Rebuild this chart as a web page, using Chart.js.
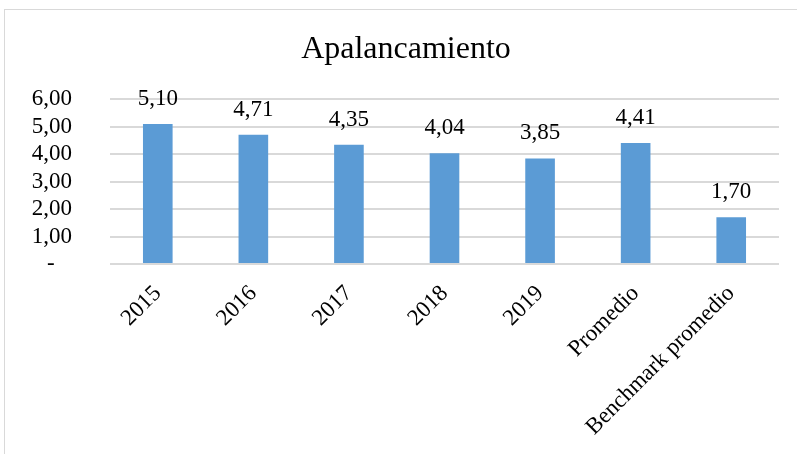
<!DOCTYPE html>
<html>
<head>
<meta charset="utf-8">
<script src="https://cdn.jsdelivr.net/npm/chart.js@4/dist/chart.umd.min.js"></script>
<style>
  html, body { margin: 0; padding: 0; background: #fff; overflow: hidden; }
  #frame {
    position: absolute; left: 4px; top: 9px;
    width: 812px; height: 460px;
    border: 1px solid #d9d9d9; background: #fff;
  }
  canvas { display: block; }
</style>
</head>
<body>
<div id="frame"><canvas id="c" width="812" height="460"></canvas></div>
<script>
// Leverage ratio by year, average and benchmark
const categories = ['2015', '2016', '2017', '2018', '2019', 'Promedio', 'Benchmark promedio'];
const apalancamiento = [5.10, 4.71, 4.35, 4.04, 3.85, 4.41, 1.70];
const yTicks = [0, 1, 2, 3, 4, 5, 6];

const SERIF = '"Liberation Serif", "Times New Roman", serif';
const fmt = v => v.toFixed(2).replace('.', ',');

// Value labels above each bar
const valueLabels = {
  id: 'valueLabels',
  afterDatasetsDraw(chart) {
    const ctx = chart.ctx;
    const meta = chart.getDatasetMeta(0);
    const values = chart.data.datasets[0].data;
    ctx.save();
    ctx.font = '23px ' + SERIF;
    ctx.fillStyle = '#000';
    ctx.textAlign = 'center';
    ctx.textBaseline = 'middle';
    meta.data.forEach((bar, i) => {
      ctx.fillText(fmt(values[i]), bar.x, bar.y - 25);
    });
    ctx.restore();
  }
};

// Centre the title across the whole frame rather than the padded layout box
const titleSpan = {
  id: 'titleSpan',
  afterLayout(chart) {
    if (chart.titleBlock) {
      chart.titleBlock.left = 0;
      chart.titleBlock.right = chart.width - 10;
    }
  }
};

new Chart(document.getElementById('c'), {
  type: 'bar',
  data: {
    labels: categories,
    datasets: [{
      data: apalancamiento,
      backgroundColor: '#5b9bd5',
      borderWidth: 0,
      categoryPercentage: 0.62,
      barPercentage: 0.5
    }]
  },
  options: {
    responsive: false,
    animation: false,
    layout: { padding: { left: 0, right: 38, top: 0, bottom: 0 } },
    plugins: {
      legend: { display: false },
      tooltip: { enabled: false },
      title: {
        display: true,
        text: 'Apalancamiento',
        color: '#000',
        font: { family: SERIF, size: 32, weight: 'normal' },
        padding: { top: 20, bottom: 31 }
      }
    },
    scales: {
      y: {
        min: 0, max: 6,
        afterBuildTicks(scale) { scale.ticks = yTicks.map(v => ({ value: v })); },
        afterFit(scale) { scale.width = 105; },
        border: { display: false },
        grid: { color: '#d9d9d9', lineWidth: 2, drawTicks: false },
        ticks: {
          color: '#000',
          padding: 38,
          autoSkip: false,
          font: { family: SERIF, size: 23 },
          callback: v => v === 0 ? '-\u00a0\u00a0\u00a0' : fmt(v)
        }
      },
      x: {
        afterFit(scale) { scale.height = 206; },
        border: { display: false },
        grid: { display: false },
        ticks: {
          color: '#000',
          padding: 8,
          autoSkip: false,
          maxRotation: 45,
          minRotation: 45,
          font: { family: SERIF, size: 23 }
        }
      }
    }
  },
  plugins: [valueLabels, titleSpan]
});
</script>
</body>
</html>
